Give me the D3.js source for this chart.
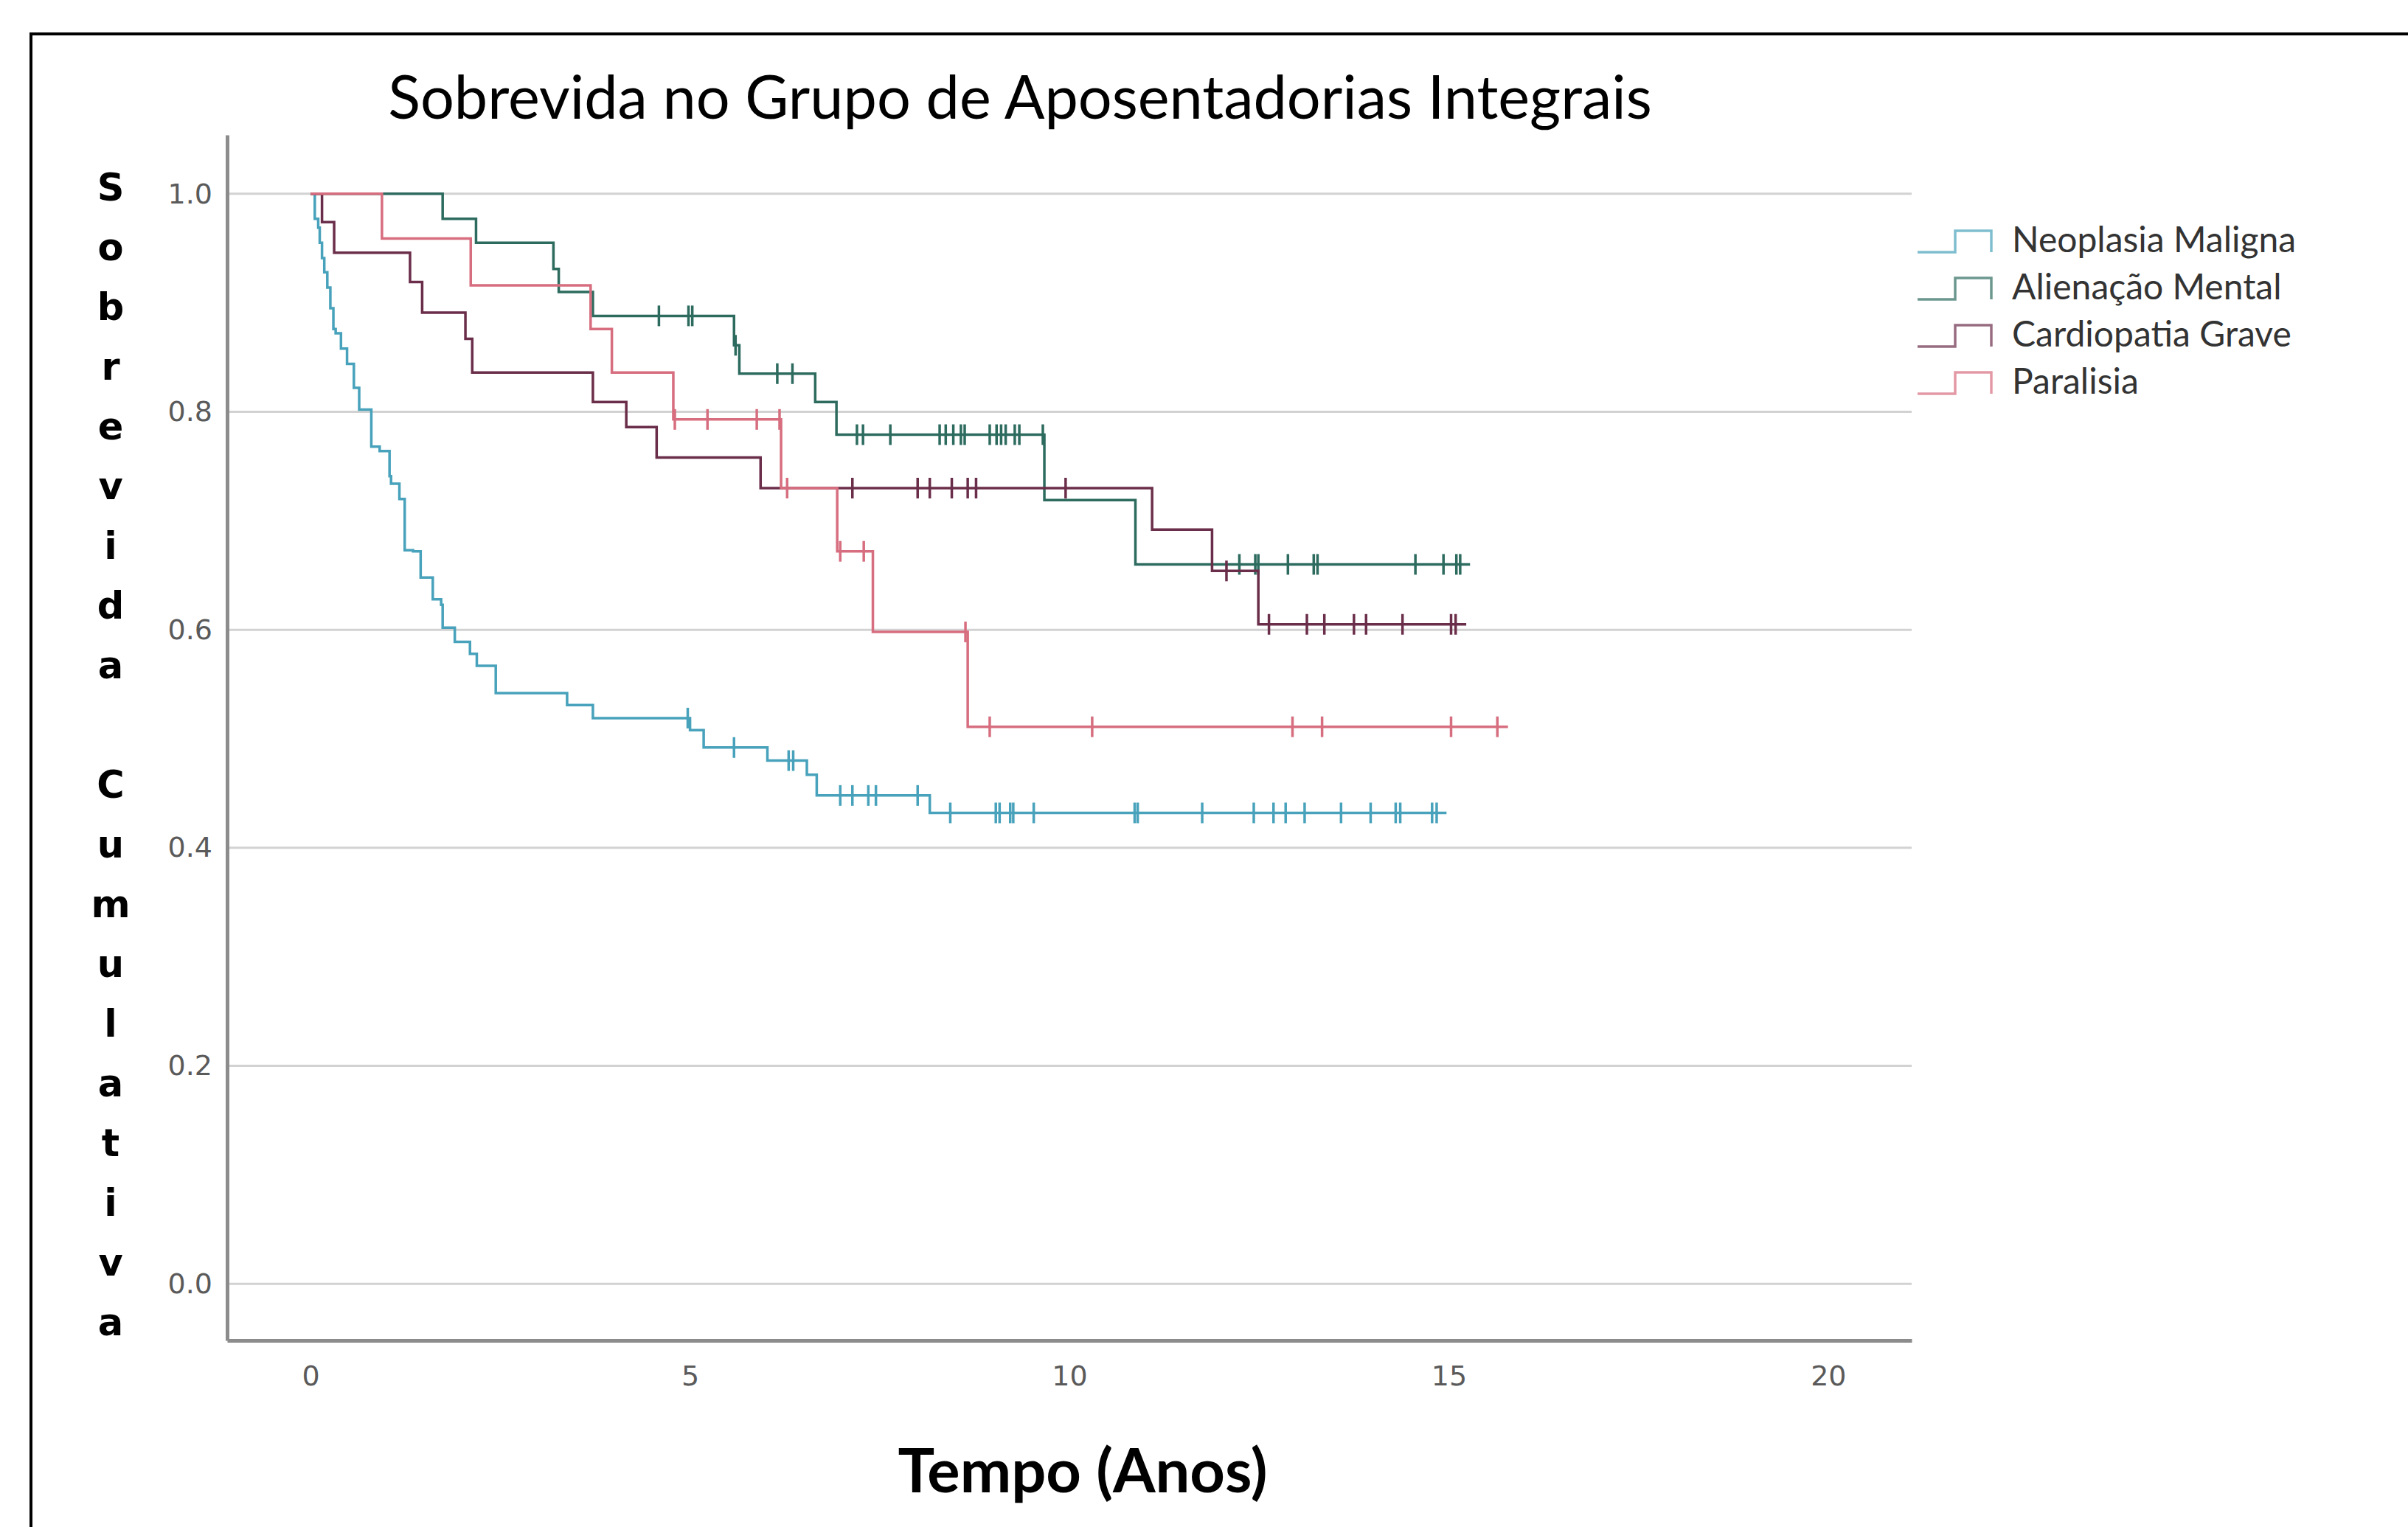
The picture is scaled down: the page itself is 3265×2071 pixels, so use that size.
<!DOCTYPE html>
<html>
<head>
<meta charset="utf-8">
<script src="https://cdn.jsdelivr.net/npm/d3@7"></script>
<style>
    body { margin: 0; background: #fff; }
    svg { display: block; }
</style>
</head>
<body>
<svg id="chart"></svg>
<script>
// Kaplan-Meier curves: step times, survival after each step,
// censor marks and the last follow-up time of each group.
let groups = ['Neoplasia Maligna', 'Alienação Mental', 'Cardiopatia Grave', 'Paralisia'];

let neoTimes = [0.055, 0.10, 0.12, 0.15, 0.18, 0.22, 0.26, 0.30, 0.33, 0.40, 0.48, 0.57, 0.64, 0.80, 0.91, 1.04,
    1.06, 1.17, 1.24, 1.35, 1.45, 1.61, 1.72, 1.74, 1.90, 2.10, 2.19, 2.44, 3.38, 3.72, 5.00, 5.18, 6.02, 6.54, 6.67, 8.16];
let neoSurv = [0.977, 0.969, 0.955, 0.941, 0.928, 0.914, 0.895, 0.876, 0.872, 0.858, 0.844, 0.822, 0.802, 0.768, 0.764, 0.741,
    0.734, 0.720, 0.673, 0.672, 0.648, 0.628, 0.623, 0.602, 0.589, 0.578, 0.567, 0.542, 0.531, 0.519, 0.508, 0.492, 0.480, 0.467, 0.448, 0.432];
let neoCensor = [4.97, 5.58, 6.30, 6.36, 6.98, 7.14, 7.35, 7.45, 8.00, 8.43, 9.03, 9.08, 9.22, 9.26, 9.53, 10.86, 10.90,
    11.75, 12.43, 12.69, 12.85, 13.10, 13.58, 13.97, 14.30, 14.36, 14.78, 14.84];
let neoEnd = 14.97;

let aliTimes = [1.74, 2.18, 3.20, 3.27, 3.72, 5.58, 5.65, 6.65, 6.93, 9.67, 10.87];
let aliSurv = [0.977, 0.955, 0.931, 0.910, 0.888, 0.861, 0.835, 0.809, 0.779, 0.719, 0.660];
let aliCensor = [4.59, 4.98, 5.03, 5.60, 6.15, 6.35, 7.20, 7.28, 7.64, 8.29, 8.37, 8.47, 8.57, 8.62, 8.95, 9.04, 9.10,
    9.16, 9.28, 9.34, 9.65, 12.24, 12.45, 12.49, 12.88, 13.22, 13.27, 14.56, 14.93, 15.10, 15.15];
let aliEnd = 15.28;

let carTimes = [0.15, 0.31, 1.31, 1.47, 2.04, 2.13, 3.72, 4.16, 4.56, 5.93, 11.09, 11.88, 12.49];
let carSurv = [0.974, 0.946, 0.919, 0.891, 0.867, 0.836, 0.809, 0.786, 0.758, 0.730, 0.692, 0.654, 0.605];
let carCensor = [7.14, 8.00, 8.16, 8.45, 8.66, 8.77, 9.95, 12.07, 12.63, 13.13, 13.36, 13.75, 13.91, 14.39, 15.03, 15.09];
let carEnd = 15.23;

let parTimes = [0.94, 2.11, 3.69, 3.97, 4.78, 6.20, 6.94, 7.41, 8.66];
let parSurv = [0.959, 0.916, 0.876, 0.836, 0.793, 0.730, 0.672, 0.598, 0.511];
let parCensor = [4.80, 5.23, 5.88, 6.18, 6.28, 6.98, 7.29, 8.63, 8.95, 10.30, 12.94, 13.33, 15.03, 15.64];
let parEnd = 15.78;

let xTicks = [0, 5, 10, 15, 20];
let yTicks = [0.0, 0.2, 0.4, 0.6, 0.8, 1.0];
let colors = ['#48a2bb', '#2d6b5f', '#6b2e4a', '#d76e7f'];

let series = [
    { name: groups[0], times: neoTimes, surv: neoSurv, censor: neoCensor, end: neoEnd },
    { name: groups[1], times: aliTimes, surv: aliSurv, censor: aliCensor, end: aliEnd },
    { name: groups[2], times: carTimes, surv: carSurv, censor: carCensor, end: carEnd },
    { name: groups[3], times: parTimes, surv: parSurv, censor: parCensor, end: parEnd }
];

let width = 3265,
    height = 2071;

let svg = d3.select('#chart')
    .attr('width', width)
    .attr('height', height);

// black frame on top and left, as in the cropped figure
svg.append('line').attr('x1', 40).attr('x2', width).attr('y1', 46).attr('y2', 46)
    .attr('stroke', '#000').attr('stroke-width', 4);
svg.append('line').attr('x1', 42).attr('x2', 42).attr('y1', 44).attr('y2', height)
    .attr('stroke', '#000').attr('stroke-width', 4);

let scaleX = d3.scaleLinear()
    .domain([-1.1, 21.1])
    .range([308, 2592]);

let scaleY = d3.scaleLinear()
    .domain([-0.052, 1.054])
    .range([1818, 183]);

// grid
svg.append('g')
    .selectAll('line')
    .data(yTicks)
    .enter()
    .append('line')
    .attr('x1', scaleX(-1.1))
    .attr('x2', scaleX(21.1))
    .attr('y1', d => scaleY(d))
    .attr('y2', d => scaleY(d))
    .attr('stroke', '#d2d2d2')
    .attr('stroke-width', 3);

// axes
let xAxis = d3.axisBottom(scaleX).tickValues(xTicks).tickSize(0).tickPadding(34).tickFormat(d3.format('d'));
let yAxis = d3.axisLeft(scaleY).tickValues(yTicks).tickSize(0).tickPadding(20).tickFormat(d3.format('.1f'));

let xAxisG = svg.append('g')
    .attr('transform', `translate(0, ${scaleY(-0.052)})`)
    .call(xAxis);
let yAxisG = svg.append('g')
    .attr('transform', `translate(${scaleX(-1.1)}, 0)`)
    .call(yAxis);

[xAxisG, yAxisG].forEach(g => {
    g.select('.domain').attr('stroke', '#8c8c8c').attr('stroke-width', 5);
    g.selectAll('text')
        .attr('fill', '#5a5a5a')
        .style('font-family', 'DejaVu Sans')
        .style('font-size', '38px');
});

// survival at time t from the step data
function survAt(s, t) {
    let v = 1;
    s.times.forEach((tt, i) => { if (tt <= t) v = s.surv[i]; });
    return v;
}

let line = d3.line()
    .x(d => scaleX(d[0]))
    .y(d => scaleY(d[1]))
    .curve(d3.curveStepAfter);

let curves = svg.append('g');
series.forEach((s, i) => {
    let pts = [[0, 1]].concat(s.times.map((t, j) => [t, s.surv[j]]));
    pts.push([s.end, s.surv[s.surv.length - 1]]);

    curves.append('path')
        .attr('d', line(pts))
        .attr('fill', 'none')
        .attr('stroke', colors[i])
        .attr('stroke-width', 3.5);

    curves.append('g')
        .selectAll('line')
        .data(s.censor)
        .enter()
        .append('line')
        .attr('x1', d => scaleX(d))
        .attr('x2', d => scaleX(d))
        .attr('y1', d => scaleY(survAt(s, d)) - 14)
        .attr('y2', d => scaleY(survAt(s, d)) + 14)
        .attr('stroke', colors[i])
        .attr('stroke-width', 3.5);
});

// legend
let legend = svg.append('g').attr('transform', 'translate(2600, 325)');
let icon = d3.line();
groups.forEach((g, i) => {
    let row = legend.append('g').attr('transform', `translate(0, ${i * 64})`);
    row.append('path')
        .attr('d', icon([[0, 17], [51, 17], [51, -12], [100, -12], [100, 17]]))
        .attr('fill', 'none')
        .attr('stroke', colors[i])
        .attr('stroke-opacity', 0.7)
        .attr('stroke-width', 3.5);
    row.append('text')
        .attr('x', 128)
        .attr('y', 0)
        .attr('dy', '0.35em')
        .attr('fill', '#333')
        .style('font-family', 'Lato')
        .style('font-size', '48px')
        .text(g);
});

// title and axis titles
svg.append('text')
    .attr('x', 1383)
    .attr('y', 133)
    .attr('dy', '0.35em')
    .attr('text-anchor', 'middle')
    .style('font-family', 'Lato')
    .style('font-size', '81px')
    .text('Sobrevida no Grupo de Aposentadorias Integrais');

svg.append('text')
    .attr('x', 1468)
    .attr('y', 1995)
    .attr('dy', '0.35em')
    .attr('text-anchor', 'middle')
    .style('font-family', 'Lato')
    .style('font-weight', 'bold')
    .style('font-size', '83px')
    .text('Tempo (Anos)');

let yLabel = 'Sobrevida Cumulativa'.split('');
svg.append('g')
    .selectAll('text')
    .data(yLabel)
    .enter()
    .append('text')
    .attr('x', 150)
    .attr('y', (d, i) => 254 + i * 81)
    .attr('dy', '0.35em')
    .attr('text-anchor', 'middle')
    .style('font-family', 'DejaVu Sans')
    .style('font-weight', 'bold')
    .style('font-size', '51px')
    .text(d => d);
</script>
</body>
</html>
